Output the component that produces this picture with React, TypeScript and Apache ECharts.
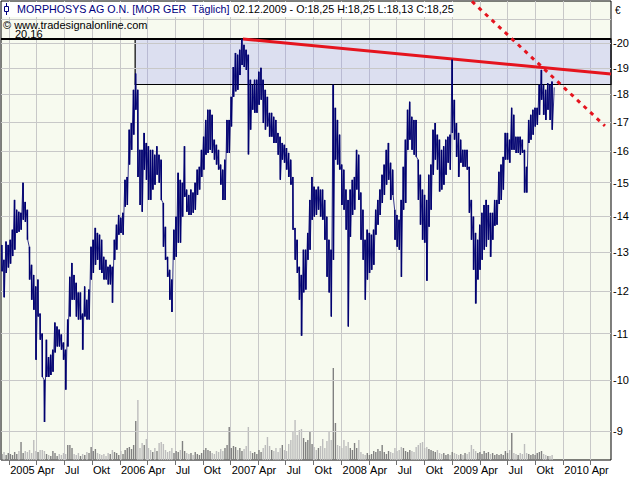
import React, { useEffect, useRef } from "react";
import * as echarts from "echarts";

// ---------- data ----------
const WEEK0 = "2004-12-06";
const LAST_DATE = "2009-12-02";
const LAST_CLOSE = 18.25;

const weekHigh = [
  13.2, 12.8, 13.29, 13.2, 13.34, 13.62, 14.48, 14.19, 14.13, 14.1,
  15.0, 14.42, 14.19, 13.15, 12.67, 12.41, 12.12, 12.29, 11.46, 11.0,
  10.0, 10.86, 10.48, 10.53, 10.64, 11.25, 11.16, 11.09, 10.98, 10.8,
  10.64, 11.32, 12.36, 12.72, 12.41, 12.21, 11.97, 11.97, 11.46, 12.12,
  11.79, 12.04, 13.15, 13.34, 13.67, 13.53, 13.48, 13.34, 12.88, 12.8,
  12.62, 12.67, 12.62, 13.34, 13.76, 14.04, 13.96, 14.1, 15.09, 15.18,
  16.73, 16.96, 18.16, 18.78, 18.16, 16.05, 16.05, 16.62, 16.28, 16.17,
  16.05, 16.05, 15.89, 16.17, 15.89, 15.73, 14.39, 13.7, 12.88, 12.54,
  12.29, 13.62, 13.99, 15.31, 15.09, 15.0, 16.17, 14.79, 14.63, 14.79,
  14.7, 15.0, 15.41, 15.5, 16.05, 16.49, 17.07, 17.43, 17.43, 17.25,
  16.39, 16.22, 16.05, 15.57, 15.41, 15.73, 17.07, 17.07, 17.9, 19.03,
  19.59, 19.52, 19.72, 20.16, 19.92, 19.72, 19.52, 18.54, 18.35, 18.54,
  18.54, 18.85, 19.0, 18.54, 18.16, 17.9, 17.32, 17.32, 17.18, 17.07,
  16.62, 16.49, 16.28, 16.22, 16.11, 15.95, 15.73, 15.18, 13.67, 13.34,
  12.62, 12.41, 13.07, 13.07, 13.53, 14.48, 15.18, 14.88, 14.79, 14.88,
  14.79, 14.79, 14.48, 13.99, 13.34, 13.07, 18.35, 17.5, 17.07, 16.56,
  15.57, 15.41, 14.79, 14.48, 14.79, 15.09, 15.18, 16.05, 15.89, 14.7,
  14.19, 13.34, 13.62, 13.53, 13.48, 13.62, 14.19, 14.48, 14.79, 15.25,
  15.57, 16.05, 16.28, 15.63, 15.41, 14.19, 14.04, 13.9, 14.48, 15.5,
  16.39, 17.43, 17.72, 17.18, 17.07, 17.07, 15.73, 15.25, 14.79, 14.63,
  14.48, 15.25, 15.57, 16.73, 16.96, 16.56, 16.39, 16.05, 16.17, 16.39,
  16.49, 16.56, 19.32, 17.79, 16.96, 16.62, 16.39, 16.05, 16.05, 16.05,
  15.5, 14.48, 13.99, 13.53, 13.34, 13.76, 14.1, 14.33, 14.48, 14.33,
  14.1, 14.1, 14.48, 14.48, 15.34, 15.57, 15.82, 16.62, 16.62, 16.39,
  17.5, 17.25, 16.49, 16.49, 16.49, 16.39, 16.05, 15.5, 17.07, 17.25,
  17.43, 17.5, 17.5, 18.35, 18.92, 18.35, 18.16, 18.41, 18.35, 18.47,
];

const weekLow = [
  12.5, 11.85, 12.46, 12.6, 12.7, 12.9, 13.07, 13.53, 13.56, 13.62,
  13.9, 13.84, 13.34, 12.29, 11.79, 11.55, 10.42, 11.39, 10.86, 10.06,
  9.17, 10.06, 10.06, 10.1, 10.17, 10.58, 10.71, 10.71, 10.64, 10.42,
  9.8, 10.71, 11.39, 11.79, 11.79, 11.39, 11.32, 11.32, 10.64, 11.39,
  11.32, 11.32, 12.29, 12.46, 12.67, 12.8, 12.54, 12.46, 12.29, 12.29,
  12.17, 12.17, 11.72, 12.8, 13.07, 13.48, 13.53, 13.48, 14.28, 14.33,
  15.57, 16.05, 16.56, 17.43, 15.18, 14.33, 14.13, 15.41, 15.09, 14.48,
  14.48, 14.79, 14.94, 15.25, 15.0, 14.48, 13.15, 12.8, 12.36, 11.79,
  11.5, 12.8, 12.88, 13.26, 13.26, 13.99, 14.57, 14.13, 14.04, 14.04,
  14.1, 14.19, 14.63, 14.79, 15.18, 15.41, 15.89, 15.95, 16.05, 15.95,
  15.73, 15.57, 15.41, 14.94, 14.48, 14.48, 15.95, 15.95, 16.84, 17.9,
  18.1, 18.16, 18.72, 19.11, 19.03, 18.92, 15.9, 16.73, 17.43, 17.32,
  17.32, 17.61, 17.79, 16.96, 16.73, 16.84, 16.49, 16.49, 16.28, 16.28,
  15.89, 15.09, 15.73, 15.63, 15.41, 15.18, 14.94, 13.62, 12.8, 12.46,
  11.79, 10.95, 11.97, 12.04, 12.8, 13.07, 13.9, 13.99, 14.04, 14.19,
  13.99, 13.9, 13.34, 12.36, 11.97, 11.39, 12.8, 15.73, 15.57, 15.41,
  14.33, 14.19, 13.62, 11.16, 13.42, 14.04, 14.19, 14.79, 14.48, 13.34,
  12.8, 11.79, 12.29, 12.46, 12.54, 12.67, 13.48, 13.76, 14.04, 14.39,
  14.63, 14.94, 15.09, 14.48, 14.63, 13.34, 13.15, 13.07, 12.36, 14.19,
  14.39, 16.05, 16.39, 16.05, 15.89, 15.82, 14.48, 13.76, 13.34, 13.26,
  12.26, 13.7, 14.19, 15.25, 15.73, 15.41, 14.73, 14.79, 14.94, 15.25,
  15.63, 15.41, 16.62, 16.39, 15.82, 15.18, 15.63, 15.5, 15.5, 15.41,
  14.1, 13.34, 12.54, 11.7, 12.29, 12.54, 12.8, 13.07, 13.15, 13.34,
  12.88, 13.34, 13.73, 13.76, 14.36, 14.48, 14.79, 15.73, 15.73, 15.63,
  16.05, 16.05, 15.95, 15.95, 15.89, 15.95, 14.7, 14.7, 16.28, 16.39,
  16.56, 16.84, 16.9, 17.25, 17.79, 17.25, 17.07, 17.43, 17.07, 16.73,
];

// weekly volume (10k shares)
const weekVolume = [
  6, 8, 5, 7, 6, 5, 8, 6, 9, 18,
  7, 9, 8, 10, 7, 20, 9, 8, 10, 10,
  9, 6, 5, 4, 9, 7, 4, 6, 5, 7,
  6, 15, 15, 12, 6, 5, 7, 4, 6, 5,
  8, 7, 13, 9, 11, 7, 6, 5, 6, 4,
  7, 6, 10, 8, 7, 5, 9, 6, 10, 12,
  13, 11, 15, 39, 60, 12, 17, 15, 21, 12,
  10, 8, 12, 9, 17, 18, 16, 10, 8, 9,
  12, 7, 9, 8, 10, 19, 9, 7, 6, 7,
  5, 8, 6, 5, 7, 10, 12, 10, 9, 7,
  6, 9, 8, 11, 9, 12, 15, 33, 12, 14,
  13, 10, 12, 9, 11, 14, 33, 9, 7, 8,
  6, 10, 8, 12, 15, 23, 14, 10, 9, 12,
  8, 12, 15, 10, 9, 16, 20, 28, 40, 25,
  30, 31, 22, 18, 20, 28, 16, 13, 10, 12,
  14, 21, 12, 19, 28, 20, 92, 37, 15, 14,
  12, 20, 14, 18, 12, 10, 17, 12, 20, 8,
  6, 5, 7, 5, 6, 9, 8, 11, 9, 15,
  8, 6, 9, 8, 7, 12, 9, 10, 13, 12,
  9, 8, 10, 9, 8, 13, 15, 17, 18, 12,
  13, 11, 10, 9, 8, 10, 7, 6, 7, 5,
  6, 5, 8, 7, 6, 5, 6, 5, 7, 6,
  8, 15, 11, 9, 7, 8, 6, 9, 7, 8,
  6, 7, 5, 6, 5, 6, 5, 9, 7, 10,
  27, 7, 6, 5, 7, 6, 16, 7, 6, 5,
  6, 5, 7, 8, 9, 6, 5, 4, 4, 5,
];

const priceTicks = [9, 10, 11, 12, 13, 14, 15, 16, 17, 18, 19, 20];
const extraGridLevels = [21];
const quarterTicks = [
  "2005-01-01", "2005-04-01", "2005-07-01", "2005-10-01",
  "2006-01-01", "2006-04-01", "2006-07-01", "2006-10-01",
  "2007-01-01", "2007-04-01", "2007-07-01", "2007-10-01",
  "2008-01-01", "2008-04-01", "2008-07-01", "2008-10-01",
  "2009-01-01", "2009-04-01", "2009-07-01", "2009-10-01",
  "2010-01-01", "2010-04-01",
];
const quarterNames = ["", "Apr", "Jul", "Okt"];

const AXIS_START = "2004-12-05";
const AXIS_END = "2010-06-07";
const PRICE_MIN = 8.48;
const PRICE_MAX = 21.8;
const VOLUME_MAX = 459;

const rangeHigh = 20.16;
const rangeLow = 18.36;
const rangeStart = "2006-02-20";
const trendSolid: [string, number][] = [["2007-02-10", 20.16], ["2010-06-07", 18.76]];
const trendDotted: [string, number][] = [["2009-03-06", 21.78], ["2010-05-18", 16.86]];

const headerTitle = "MORPHOSYS AG O.N. [MOR GER  Täglich]";
const headerQuote = " 02.12.2009 - O:18,25 H:18,25 L:18,13 C:18,25";
const copyright = "© www.tradesignalonline.com";

// ---------- helpers ----------
const DAY = 86400000;
function ts(s: string): number {
  const [y, m, d] = s.split("-").map(Number);
  return new Date(y, m - 1, d).getTime();
}
const FONT = "'Liberation Sans', Arial, sans-serif";
const NAVY = "#000070";

export default function App() {
  const ref = useRef<HTMLDivElement>(null);

  useEffect(() => {
    if (!ref.current) return;
    const chart = echarts.init(ref.current, undefined, { renderer: "svg" });

    const w0 = ts(WEEK0);
    const pricePoints: [number, number][] = [];
    const hlBars: [number, number, number][] = [];
    weekHigh.forEach((h, i) => {
      const t = w0 + i * 7 * DAY;
      pricePoints.push([t + DAY, h]);
      pricePoints.push([t + 3 * DAY, weekLow[i]]);
      hlBars.push([t + 2 * DAY, h, weekLow[i]]);
    });
    pricePoints.push([ts(LAST_DATE), LAST_CLOSE]);

    const volumeData = weekVolume.map((v, i) => {
      const mid = (weekHigh[i] + weekLow[i]) / 2;
      const prev = i > 0 ? (weekHigh[i - 1] + weekLow[i - 1]) / 2 : mid;
      return {
        value: [w0 + i * 7 * DAY + 2 * DAY, v],
        itemStyle: { color: mid >= prev ? "#808080" : "#bdbdbd" },
      };
    });

    const quarterTs = quarterTicks.map(ts);
    const xMin = ts(AXIS_START);
    const xMax = ts(AXIS_END);

    const option: any = {
      animation: false,
      textStyle: { fontFamily: FONT },
      grid: {
        left: 1,
        top: 1,
        right: 29,
        bottom: 20,
        show: true,
        backgroundColor: "#F7FAEF",
        borderColor: "#000",
        borderWidth: 1,
      },
      xAxis: {
        type: "value",
        min: xMin,
        max: xMax,
        scale: true,
        axisLine: { show: false },
        axisTick: {
          show: true,
          customValues: quarterTs,
          length: 5,
          lineStyle: { color: "#707070" },
        },
        axisLabel: {
          customValues: quarterTs,
          formatter: (v: number) => {
            const d = new Date(v);
            const m = d.getMonth();
            return m === 0 ? String(d.getFullYear()) : quarterNames[Math.floor(m / 3)];
          },
          align: "left",
          padding: [0, 0, 0, 1],
          margin: 4,
          color: "#000",
          fontSize: 11,
          fontFamily: FONT,
          hideOverlap: false,
        },
        splitLine: { show: true, lineStyle: { color: "#C8C8C8", width: 1 } },
      },
      yAxis: [
        {
          type: "log",
          logBase: 10,
          min: PRICE_MIN,
          max: PRICE_MAX,
          position: "right",
          axisLine: { show: false },
          axisTick: { show: false },
          axisLabel: { show: false },
          splitLine: { show: false },
        },
        {
          type: "value",
          min: 0,
          max: VOLUME_MAX,
          show: false,
          splitLine: { show: false },
        },
      ],
      series: [
        {
          name: "grid",
          type: "line",
          yAxisIndex: 0,
          data: [[xMin, 15]],
          symbol: "none",
          lineStyle: { opacity: 0 },
          silent: true,
          z: 1,
          markLine: {
            silent: true,
            symbol: ["none", "none"],
            animation: false,
            emphasis: { disabled: true },
            lineStyle: { color: "#C8C8C8", width: 1, type: "solid" },
            label: {
              show: true,
              position: "end",
              formatter: "{b}",
              distance: 2,
              color: "#000",
              fontSize: 11,
              fontFamily: FONT,
            },
            data: [
              ...priceTicks.map((v) => ({ yAxis: v, name: "-" + v })),
              ...extraGridLevels.map((v) => ({ yAxis: v, name: "" })),
            ],
          },
        },
        {
          name: "volume",
          type: "bar",
          yAxisIndex: 1,
          data: volumeData,
          barWidth: 1.4,
          silent: true,
          z: 2,
        },
        {
          name: "range",
          type: "line",
          yAxisIndex: 0,
          data: [[xMin, 15]],
          symbol: "none",
          lineStyle: { opacity: 0 },
          silent: true,
          z: 3,
          markArea: {
            silent: true,
            emphasis: { disabled: true },
            itemStyle: {
              color: "rgba(140,143,243,0.25)",
              borderColor: "#000",
              borderWidth: 1.2,
            },
            data: [[{ xAxis: ts(rangeStart), yAxis: rangeLow }, { xAxis: xMax, yAxis: rangeHigh }]],
          },
          markLine: {
            silent: true,
            symbol: ["none", "none"],
            emphasis: { disabled: true },
            lineStyle: { color: "#000", width: 2, type: "solid" },
            label: {
              show: true,
              position: "insideStartTop",
              formatter: "{b}",
              distance: [14, 0],
              color: "#000",
              fontSize: 11,
              fontFamily: FONT,
            },
            data: [{ yAxis: rangeHigh, name: "20,16" }],
          },
        },
        {
          name: "MORPHOSYS HL",
          type: "custom",
          yAxisIndex: 0,
          data: hlBars,
          encode: { x: 0, y: [1, 2] },
          silent: true,
          z: 5,
          renderItem: (params: any, api: any) => {
            const t = api.value(0);
            const p1 = api.coord([t, api.value(1)]);
            const p2 = api.coord([t, api.value(2)]);
            return {
              type: "rect",
              shape: { x: p1[0] - 0.75, y: p1[1], width: 1.5, height: p2[1] - p1[1] },
              style: { fill: NAVY },
            };
          },
        },
        {
          name: "MORPHOSYS",
          type: "line",
          yAxisIndex: 0,
          data: pricePoints,
          symbol: "none",
          showSymbol: false,
          lineStyle: { color: NAVY, width: 0.8 },
          silent: true,
          z: 6,
        },
        {
          name: "trend",
          type: "line",
          yAxisIndex: 0,
          data: [[xMin, 15]],
          symbol: "none",
          lineStyle: { opacity: 0 },
          silent: true,
          z: 8,
          markLine: {
            silent: true,
            symbol: ["none", "none"],
            emphasis: { disabled: true },
            label: { show: false },
            data: [
              [
                { coord: [ts(trendSolid[0][0]), trendSolid[0][1]], lineStyle: { color: "#E5141E", width: 3, type: "solid" } },
                { coord: [ts(trendSolid[1][0]), trendSolid[1][1]] },
              ],
              [
                { coord: [ts(trendDotted[0][0]), trendDotted[0][1]], lineStyle: { color: "#E5141E", width: 3, type: [4, 5] } },
                { coord: [ts(trendDotted[1][0]), trendDotted[1][1]] },
              ],
            ],
          },
        },
      ],
      graphic: [
        { type: "rect", z: 100, silent: true, shape: { x: 2, y: 2, width: 451, height: 15 }, style: { fill: "#ffffff" } },
        { type: "line", z: 101, silent: true, shape: { x1: 6.5, y1: 3, x2: 6.5, y2: 15 }, style: { stroke: "#000080", lineWidth: 1 } },
        { type: "rect", z: 101, silent: true, shape: { x: 4.5, y: 6.5, width: 4, height: 5 }, style: { fill: "#ffffff", stroke: "#000080", lineWidth: 1 } },
        {
          type: "text",
          z: 101,
          silent: true,
          x: 17,
          y: 9,
          style: {
            text: "{a|" + headerTitle + "}{b|" + headerQuote + "}",
            verticalAlign: "middle",
            rich: {
              a: { fill: "#000080", fontSize: 10.7, fontFamily: FONT },
              b: { fill: "#000000", fontSize: 10.7, fontFamily: FONT },
            },
          },
        },
        {
          type: "text",
          z: 101,
          silent: true,
          x: 3,
          y: 25,
          style: { text: copyright, fill: "#000", fontSize: 11, fontFamily: FONT, verticalAlign: "middle" },
        },
        {
          type: "text",
          z: 101,
          silent: true,
          x: 615,
          y: 10,
          style: { text: "€", fill: "#000", fontSize: 10, fontFamily: FONT, verticalAlign: "middle" },
        },
      ],
    };

    chart.setOption(option);
    return () => chart.dispose();
  }, []);

  return (
    <div
      ref={ref}
      style={{ position: "fixed", left: 0, top: 0, width: 640, height: 480, background: "#ffffff" }}
    />
  );
}
